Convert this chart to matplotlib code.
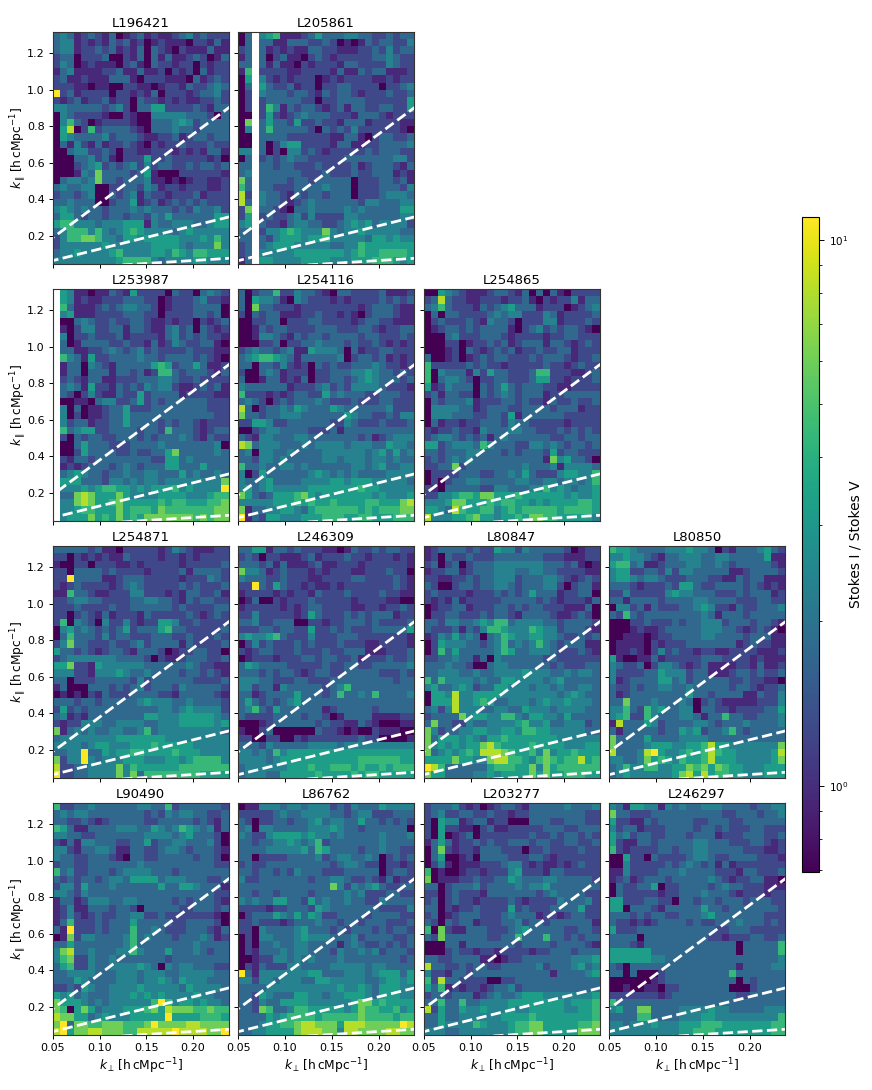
import numpy as np
import matplotlib
matplotlib.use("Agg")
import matplotlib.pyplot as plt
from matplotlib.colors import LogNorm

# Values: one digit per cell, on ten colour levels.
LEVELS = [0.70, 0.95, 1.27, 1.75, 2.37, 3.2, 4.4, 6.0, 8.1, 11.0]
VMIN, VMAX = 0.695, 11.0
KPERP_EDGES = (0.0497, 0.2379, 25)
KPAR_EDGES = (1.315, 0.045, 32)
WEDGE_SLOPES = [3.78, 1.27, 0.32]
X_TICKS = [0.05, 0.10, 0.15, 0.20]
Y_TICKS = [0.2, 0.4, 0.6, 0.8, 1.0, 1.2]

L196421 = """34312 32130 12312 11234 23222
34412 12132 31201 21110 22131
34412 23231 21303 21021 11311
23302 22300 21303 13112 32013
24301 21110 23103 22122 02122
13411 11223 11311 20212 03122
23112 11133 31022 21110 31232
22211 01100 22110 12213 22343
92312 22202 21213 02221 23342
21231 22312 20322 12121 12232
44333 33234 20335 52222 32133
04322 22100 21004 44443 33203
04632 01222 21003 33454 23333
05802 62333 32103 33433 23333
05433 33423 33211 22312 33233
03142 13122 32102 12232 22322
00344 22320 22112 22121 21331
00033 42310 22252 23222 22120
00023 45232 34242 33223 23323
00014 37333 32351 00022 22221
03443 47332 33341 10101 22112
34334 40022 33243 12212 22112
23323 40032 34132 21222 31222
33433 30023 35123 12323 23222
45434 33233 34343 33232 43342
35532 33233 23324 35333 33355
56644 43444 55514 33444 33455
34666 46434 56544 44345 44444
24667 76443 55455 55544 45464
24444 44544 44445 55543 44474
34454 44456 44445 54654 66555
44444 44445 66664 34444 55444"""

L205861 = """03.45 61112 35333 44332 23233
03.33 11333 22320 10132 33224
23.31 21211 33221 11223 24233
13.30 23110 23212 22223 34322
33.31 31102 12221 33222 24322
16.22 22112 22213 11323 31112
05.42 12122 20121 22221 12122
03.53 22312 20223 32222 02234
02.43 33233 21323 32122 23223
02.23 33332 20223 33322 22225
02.26 41323 32123 13322 33225
00.25 21234 33322 21333 21222
07.35 33252 23221 33312 22211
04.36 33333 20323 24222 22210
00.33 33222 22211 33102 33223
00.30 24552 22213 31122 33334
44.30 20442 32122 22232 33322
03.23 23433 22222 33333 33442
33.33 23322 23222 23123 33213
34.33 33332 22322 23223 33121
73.33 33233 23333 30222 33231
63.33 22233 33433 30222 33324
82.43 32132 33233 30222 34443
83.43 32123 43333 33244 33344
27.33 21033 43333 43433 33355
25.23 22342 42222 44333 33344
45.32 21344 33223 45453 44442
33.24 45654 44743 44544 44433
33.32 45554 55644 44435 54544
23.34 55544 44433 44655 55555
23.44 44455 55555 45655 66665
13.55 44445 55544 45556 66545"""

L253987 = """.5411 01132 15222 20322 03432
.5412 11222 33322 01222 34221
.6311 12323 44332 01222 33330
.4511 12222 33322 02222 33230
.0034 32232 23321 12122 02123
.1024 42233 13321 13423 03212
.4022 32223 12222 13423 23221
.3013 33322 32213 12432 23310
.3311 22343 23423 22223 22211
.6431 52233 33433 23333 23210
.1330 43213 33335 65233 53112
.1330 33313 32312 66323 33213
.2321 33112 22333 44322 32222
.3431 52213 23243 44211 23231
.3202 42113 22523 33312 22211
.0011 03442 23523 23333 33222
.4030 11233 52223 33333 33222
.4020 11233 53333 33333 33322
.4233 12233 53333 23233 21222
.6345 52233 33233 26333 21233
.2032 33223 33232 33343 21322
.0035 33322 23333 43333 33340
.0025 33332 23223 35733 33343
.2133 23333 33332 25534 33333
.1212 33323 43233 35533 35333
.3454 33233 43344 33353 43343
.5553 33244 34344 34444 44447
.4445 45665 54545 55645 44449
.3378 75557 54444 55554 44566
.4478 75567 55555 65665 55667
.4456 65557 56665 76666 66677
.4555 75657 56577 77777 67677"""

L254116 = """30233 62243 32103 32222 31112
30544 31043 22212 12222 32323
30733 22212 22222 22123 33211
20323 31112 23221 21023 33211
00223 30222 33222 21233 22111
00132 33222 23332 22332 12233
00144 32132 33233 33233 22232
00022 30223 34333 23223 21212
23433 23411 54443 03122 33222
34566 54313 33334 02332 31212
33033 24212 03232 23334 32212
20034 31222 02233 34454 33232
30013 31213 02233 23454 33323
43333 33122 23423 24444 32221
62221 21233 22534 33322 33322
34320 23233 34322 23222 33222
83023 34354 33354 33333 34222
73323 34443 33333 54332 23244
22554 22333 33322 43222 32223
00234 43333 22231 33333 33333
32144 33344 33333 33231 23444
87344 43334 34444 34443 35443
34044 33433 33444 44434 53534
33244 34333 33443 44434 43433
63343 34434 33333 34434 53344
40253 33333 45434 34333 34444
43345 33334 44455 45554 44443
45345 44444 55555 55655 44444
75323 55567 54555 55554 54445
44444 55565 65565 55566 55578
71334 45543 56666 66565 66677
91325 54445 55666 55665 55666"""

L254865 = """00543 21112 33213 03031 02222
23832 21122 21223 10212 24133
34632 22132 34533 31222 01234
03033 22223 43442 22431 22223
02322 23214 33202 22441 22232
01233 23233 33102 34232 33210
00034 22233 32122 22122 33222
00022 01223 23123 33133 21232
00012 03212 32312 23223 31222
30012 01232 33222 32333 21223
62222 23232 21222 22322 12322
60433 31425 33222 36622 21123
60344 32022 33222 35522 12223
51243 33032 35323 33221 12222
23133 22032 34323 33122 33333
03233 34122 23323 22132 23223
04444 33123 33223 33323 33122
04443 33223 32513 33333 22222
03122 12233 32433 22222 12222
21223 22143 33443 32223 23232
23443 23231 34333 33322 33233
55234 44364 33322 44343 23323
33233 34433 32323 33252 33222
23234 34333 33333 33174 53320
22337 23333 33334 33341 44443
02222 33322 33435 32224 55446
02023 34433 33344 33443 44346
21033 33322 44333 44645 43445
22445 66577 55565 55555 45445
44457 75556 56655 45455 55665
55438 65566 45656 66665 66665
84445 56755 45565 77665 55554"""

L254871 = """33333 23110 22222 12432 11122
22021 21211 32222 12212 12222
10022 02221 12122 22212 22223
22033 33232 22212 22231 33332
22933 33112 33322 22212 22432
21232 22212 34322 22232 32223
11633 21122 24422 21213 32231
22344 33222 23344 33213 23322
22232 22232 23333 33232 22233
22023 21312 22132 22223 21232
26043 20422 42122 55422 32222
04534 32323 52333 56332 22223
03633 32423 32223 33223 22232
24733 22232 23423 33313 22223
53323 21233 21333 20122 33220
23444 44443 33320 21123 33223
55722 15444 44433 33334 32211
44422 14445 43343 33323 32321
33022 23333 32423 33333 22223
13000 33323 23423 33243 33332
01010 21322 23333 22133 33321
33323 32333 33454 44334 33332
25232 33333 33333 44345 44442
34121 33333 33355 44455 55543
21224 44334 44433 44455 55545
71343 43344 33463 44444 44443
34444 44445 55555 54444 44444
44443 45544 45556 55555 44444
33449 33545 56655 55655 54444
72449 43444 55544 45545 66664
82233 44447 46555 55566 66666
92233 44447 47366 66666 65555"""

L246309 = """33551 33232 22110 13223 23322
23202 21112 31222 32212 22121
33323 13111 23112 22122 22221
74431 23222 12122 21122 23220
43332 23222 11222 23322 22321
22932 53221 21121 22222 22321
12222 12122 13222 32222 32211
01300 21222 32222 21222 21100
12222 21212 33222 21122 12232
22422 22212 53222 32323 33122
33422 33300 22122 33323 22223
22233 23322 52232 32223 33335
45445 63222 42223 33222 22221
02423 22232 32223 22211 22221
21233 22232 22322 33311 12223
01222 12223 32332 23122 23223
35433 33222 22322 33223 33334
33323 23321 23322 33333 22232
44433 22233 22233 33333 33233
44233 14333 33234 63333 33333
33123 33353 33236 33436 33334
35323 23453 33333 33333 33333
34632 53333 33123 33332 33333
32222 33332 33201 33331 11122
00012 33333 32322 11321 00011
10023 00000 03221 01002 11100
22002 20021 22222 22322 00001
33324 33333 44443 44444 44444
44343 64555 55555 55555 55555
44443 45555 55555 55666 66655
34444 44555 65566 65655 65666
34443 35555 56555 56566 55555"""

L80847 = """12333 32322 54424 33333 20122
12032 23222 33333 33222 11122
23023 02333 44444 44333 23101
12233 12333 44433 44332 22211
22112 23233 44423 33443 21232
32002 33233 44323 33442 02331
23222 21222 32323 53331 22330
21213 12222 23333 32321 22213
01223 31222 33232 33222 11130
02233 22232 33213 33321 12320
33244 33454 66344 44332 33332
32223 13246 65444 65442 33321
12435 34303 46544 55443 22323
02544 43323 46343 46432 33311
02635 33333 46533 44432 22321
22334 33130 43333 33232 22222
33343 32003 44333 33323 22233
33444 33433 44445 44433 43443
63644 44343 35544 44345 33333
45334 54233 55444 34434 33443
05548 44555 54444 44443 45433
05558 44565 33444 34544 54443
34248 44433 44335 44434 44433
23333 74554 46643 55443 53333
37332 24334 44456 44533 44423
74233 44554 45546 65544 44433
73555 45435 56555 55554 44444
74545 45578 65555 65555 44455
73454 56588 87655 64745 56555
55557 55447 88665 46765 66856
98633 33335 66655 74756 66666
75533 33445 45555 75755 66655"""

L80850 = """65543 33344 45443 02133 34532
44544 32133 44433 44333 33511
56634 11233 34433 43233 33321
45522 33242 44333 33112 33332
45543 44322 23332 21132 33111
33321 22232 55322 33332 32121
22422 22245 44333 22232 33312
33133 33233 33443 33322 23322
04423 13222 33454 22132 23334
32632 33333 33343 13332 33333
00022 32223 23344 42333 23321
00012 11233 33344 43321 23210
00111 01223 33344 33332 33311
01111 02122 23333 33312 32211
01121 02423 22122 11222 21112
51001 13122 22233 32222 12111
43223 02443 21231 11122 13112
42222 33544 42331 11233 23223
41233 33553 42333 33223 22110
32232 33443 34333 33233 21223
31233 33333 35332 33331 13224
33733 34333 43023 21111 12224
44632 64533 44033 22122 22335
45622 64333 44313 36332 23334
18333 54233 33443 23334 33334
31333 33233 54523 34632 33333
73333 53333 44443 33333 33333
73333 45554 45568 55444 44447
83334 89544 56568 65544 44458
44334 75654 65568 55544 44457
34644 66445 57675 76554 44555
34544 44445 78585 66554 44555"""

L90490 = """62233 43333 33443 36233 33332
34344 33333 33323 24344 33223
33223 21233 33322 33333 23213
65311 33334 44335 43465 43413
44332 23333 33344 44345 33320
21314 43332 23352 33443 33420
44213 34431 13322 34432 33321
43322 33321 03322 33333 23320
23322 33333 33433 33333 33322
63422 33323 44443 33233 33333
32323 32344 35555 34443 33223
24425 33343 33333 53355 43331
44324 33333 33333 33333 33322
13312 44433 44333 33232 33321
12411 33323 32033 33322 33323
12421 23223 34422 32222 22210
13622 23233 35333 33223 33320
31922 23233 36334 32223 33213
01724 43333 46343 33233 34312
33533 33333 46333 33333 43333
47833 43334 46433 35333 43233
46722 43343 33333 32333 33333
35622 43344 44543 04344 33322
33444 43334 44344 43344 44433
33354 33334 44344 54354 44333
22325 43344 44544 44435 44443
54534 33344 45454 54444 54433
75554 34344 44446 96455 45443
76057 53444 55567 58777 66766
87755 34544 45555 59555 56665
79377 66777 66679 77778 87777
89577 88777 66888 88988 88779"""

L86762 = """01144 43443 44423 24333 54444
22222 34334 44433 23442 22333
32022 33233 45344 33533 23232
34044 33333 44454 33233 33330
43224 55554 54434 33333 43334
33233 44543 46233 33333 43333
33334 44445 36533 33233 43322
33022 22333 34234 43343 02323
23223 33333 33323 44322 02212
33233 23243 33222 33333 02332
42233 33333 23344 32232 13122
33333 33333 33374 24345 32233
33233 23333 23333 43422 23322
43433 55332 53433 43322 43333
22221 22333 25433 33333 22224
02333 54353 54223 33323 33322
22322 21233 34332 33233 32223
22043 33345 33323 23332 32332
02044 33345 44433 34233 33223
02033 43344 33331 34322 32323
02133 34344 33324 33434 23332
00122 44343 43334 33333 33323
02132 22443 33344 44434 43333
93144 44444 55333 44434 55535
44244 34443 35544 44433 45545
33334 44444 44445 44543 55544
33254 33355 44344 55543 55544
33243 35555 44444 45775 65555
33276 33466 55555 45766 55645
33335 45666 65666 66766 66566
33345 56678 87775 88877 77798
33445 55578 88774 88777 78877"""

L203277 = """23334 21201 23321 33333 43334
23422 33223 22122 33333 33322
20544 12331 22000 33322 33322
20522 11023 11222 22333 22333
20501 23022 22222 32232 33232
13531 22323 22333 23322 33223
03721 22133 32220 22322 22322
03500 12033 33222 33212 22222
02410 11122 23442 12112 12322
60100 12212 22452 22133 22222
70111 22322 33543 33443 33332
33023 33423 33343 44533 33333
22023 22213 33333 32343 33322
23023 22122 22321 22224 33342
33021 22322 22523 22233 33522
23012 33322 23433 31221 23322
32032 33122 23342 33233 33331
60721 13332 22345 33333 22332
32733 33332 23363 33633 23233
00033 13333 33323 33323 33321
00023 22122 12222 12233 32333
33223 33311 01223 33333 34445
83322 32332 23333 34233 34534
42213 32333 33333 33313 33345
62833 22220 02233 33333 33333
53612 12212 33423 33333 33333
23323 33123 43345 55444 44445
33633 63344 44555 55555 45556
82533 54454 44544 55555 44556
33533 44444 45555 65555 55556
33544 44654 44566 77555 55667
44433 44444 44566 77555 55777"""

L246297 = """43155 44143 43344 43333 23344
73322 23333 33333 32233 32334
52211 32333 33223 33223 33333
42331 22233 33233 23222 33222
53423 32233 32333 12223 33223
52113 32333 33443 33222 33212
62122 22332 33443 33332 22112
00522 03222 23443 22333 32221
00422 22232 34323 13122 22222
11422 22333 43333 22213 32223
12312 33323 33334 32122 33110
03223 35022 33332 34332 22111
03222 22122 33343 33212 22122
55222 33220 33233 23332 33322
55033 32133 33353 32333 33332
33323 23322 33345 33333 33222
32212 12333 32322 33343 33232
52223 33333 33333 22333 22222
33330 33333 33332 21222 33223
33321 33333 33333 33303 33336
55555 53333 33333 33303 33336
55555 54433 33333 33333 33334
32033 33333 33333 33313 33344
33030 00233 33333 33633 33333
00000 01233 33333 33303 23333
00100 11022 33333 33000 23333
22222 22123 33333 33322 33333
63333 33333 33333 33333 33333
45337 73333 44445 44333 33444
33336 63333 44455 44444 44446
44344 45444 55566 65555 55566
44444 44444 55666 55555 55566"""

TITLES = [["L196421", "L205861"], ["L253987", "L254116", "L254865"],
          ["L254871", "L246309", "L80847", "L80850"],
          ["L90490", "L86762", "L203277", "L246297"]]
TABLE = {"L196421": L196421, "L205861": L205861, "L253987": L253987,
         "L254116": L254116, "L254865": L254865, "L254871": L254871,
         "L246309": L246309, "L80847": L80847, "L80850": L80850,
         "L90490": L90490, "L86762": L86762, "L203277": L203277,
         "L246297": L246297}


def decode(text):
    rows = [r.replace(" ", "") for r in text.strip().splitlines()]
    bad = [i for i, r in enumerate(rows) if len(r) != 25]
    if len(rows) != 32 or bad:
        raise ValueError(f"{len(rows)} rows, bad {bad}: {rows[0]}")
    return np.array([[np.nan if c == "." else LEVELS[int(c)] for c in r]
                     for r in rows])


W, H = 872, 1090
fig = plt.figure(figsize=(W / 100, H / 100), dpi=100)
COL_X = [52.5, 238, 423.5, 609]
ROW_Y = [32, 289, 546, 803]
PW, PH = 176, 232
norm = LogNorm(VMIN, VMAX)
xe = np.linspace(*KPERP_EDGES[:2], KPERP_EDGES[2] + 1)
ye = np.linspace(*KPAR_EDGES[:2], KPAR_EDGES[2] + 1)
mesh = None
xl = np.array([0.03, 0.25])
LABEL = r"$k_{%s}\,[\mathrm{h\,cMpc^{-1}}]$"
for i, row in enumerate(TITLES):
    for j, name in enumerate(row):
        ax = fig.add_axes([COL_X[j] / W, 1 - (ROW_Y[i] + PH) / H, PW / W, PH / H])
        mesh = ax.pcolormesh(xe, ye, decode(TABLE[name]), cmap="viridis", norm=norm)
        for s in WEDGE_SLOPES:
            ax.plot(xl, s * xl, color="white", ls="--", lw=2.0)
        ax.set_xlim(KPERP_EDGES[0], KPERP_EDGES[1])
        ax.set_ylim(KPAR_EDGES[1], KPAR_EDGES[0])
        ax.set_xticks(X_TICKS)
        ax.set_yticks(Y_TICKS)
        ax.tick_params(labelsize=8, length=3, width=0.7, pad=2.5,
                       labelbottom=i == 3, labelleft=j == 0)
        for sp in ax.spines.values():
            sp.set_linewidth(0.8)
            sp.set_color("#333333")
        ax.set_title(name, fontsize=9.5, pad=3.5)
        if i == 3:
            ax.set_xticklabels(["%.2f" % t for t in X_TICKS])
            ax.set_xlabel(LABEL % r"\perp", fontsize=8.8, labelpad=2.5)
        if j == 0:
            ax.set_ylabel(LABEL % r"\parallel", fontsize=8.8, labelpad=-1.5)

cax = fig.add_axes([802 / W, 1 - 872 / H, 17 / W, 655 / H])
cb = fig.colorbar(mesh, cax=cax)
cb.ax.tick_params(labelsize=7.5, length=3.5, width=0.7, which="major")
cb.ax.tick_params(length=2, width=0.6, which="minor")
cb.outline.set_linewidth(0.8)
cb.set_label("Stokes I / Stokes V", fontsize=10, labelpad=0.5)
fig.savefig("out.png", dpi=100)
